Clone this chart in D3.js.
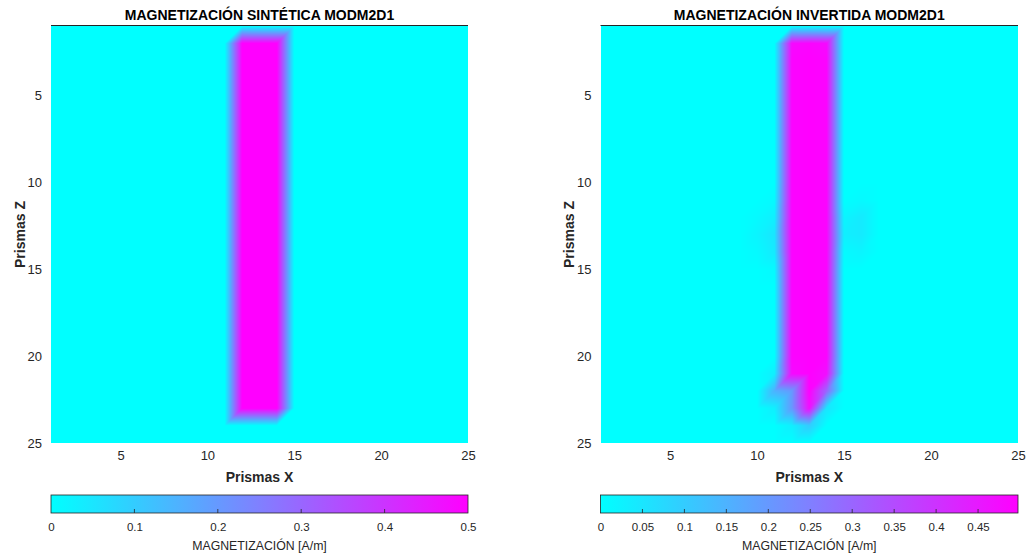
<!DOCTYPE html>
<html>
<head>
<meta charset="utf-8">
<script src="https://d3js.org/d3.v7.min.js"></script>
<style>
  body { margin: 0; background: #fff; }
  svg { display: block; font-family: "Liberation Sans", Arial, sans-serif; }
  .tick text { fill: #262626; }
</style>
</head>
<body>
<div id="chart"></div>
<script>
  // grid axes (prism index)
  const prismsX = [1, 25];
  const prismsZ = [1, 25];
  const axisTicks = [5, 10, 15, 20, 25];

  // synthetic magnetization, rows = Z (1..25), columns = X (1..25)
  const synthetic = [
    [0,0,0,0,0,0,0,0,0,0,0,0,0,0,0,0,0,0,0,0,0,0,0,0,0],
    [0,0,0,0,0,0,0,0,0,0,0,.5,.5,.5,0,0,0,0,0,0,0,0,0,0,0],
    [0,0,0,0,0,0,0,0,0,0,0,.5,.5,.5,0,0,0,0,0,0,0,0,0,0,0],
    [0,0,0,0,0,0,0,0,0,0,0,.5,.5,.5,0,0,0,0,0,0,0,0,0,0,0],
    [0,0,0,0,0,0,0,0,0,0,0,.5,.5,.5,0,0,0,0,0,0,0,0,0,0,0],
    [0,0,0,0,0,0,0,0,0,0,0,.5,.5,.5,0,0,0,0,0,0,0,0,0,0,0],
    [0,0,0,0,0,0,0,0,0,0,0,.5,.5,.5,0,0,0,0,0,0,0,0,0,0,0],
    [0,0,0,0,0,0,0,0,0,0,0,.5,.5,.5,0,0,0,0,0,0,0,0,0,0,0],
    [0,0,0,0,0,0,0,0,0,0,0,.5,.5,.5,0,0,0,0,0,0,0,0,0,0,0],
    [0,0,0,0,0,0,0,0,0,0,0,.5,.5,.5,0,0,0,0,0,0,0,0,0,0,0],
    [0,0,0,0,0,0,0,0,0,0,0,.5,.5,.5,0,0,0,0,0,0,0,0,0,0,0],
    [0,0,0,0,0,0,0,0,0,0,0,.5,.5,.5,0,0,0,0,0,0,0,0,0,0,0],
    [0,0,0,0,0,0,0,0,0,0,0,.5,.5,.5,0,0,0,0,0,0,0,0,0,0,0],
    [0,0,0,0,0,0,0,0,0,0,0,.5,.5,.5,0,0,0,0,0,0,0,0,0,0,0],
    [0,0,0,0,0,0,0,0,0,0,0,.5,.5,.5,0,0,0,0,0,0,0,0,0,0,0],
    [0,0,0,0,0,0,0,0,0,0,0,.5,.5,.5,0,0,0,0,0,0,0,0,0,0,0],
    [0,0,0,0,0,0,0,0,0,0,0,.5,.5,.5,0,0,0,0,0,0,0,0,0,0,0],
    [0,0,0,0,0,0,0,0,0,0,0,.5,.5,.5,0,0,0,0,0,0,0,0,0,0,0],
    [0,0,0,0,0,0,0,0,0,0,0,.5,.5,.5,0,0,0,0,0,0,0,0,0,0,0],
    [0,0,0,0,0,0,0,0,0,0,0,.5,.5,.5,0,0,0,0,0,0,0,0,0,0,0],
    [0,0,0,0,0,0,0,0,0,0,0,.5,.5,.5,0,0,0,0,0,0,0,0,0,0,0],
    [0,0,0,0,0,0,0,0,0,0,0,.5,.5,.5,0,0,0,0,0,0,0,0,0,0,0],
    [0,0,0,0,0,0,0,0,0,0,0,.5,.5,.5,0,0,0,0,0,0,0,0,0,0,0],
    [0,0,0,0,0,0,0,0,0,0,0,0,0,0,0,0,0,0,0,0,0,0,0,0,0],
    [0,0,0,0,0,0,0,0,0,0,0,0,0,0,0,0,0,0,0,0,0,0,0,0,0]
  ];

  // inverted magnetization
  const inverted = [
    [0,0,0,0,0,0,0,0,0,0,0,0,0,0,0,0,0,0,0,0,0,0,0,0,0],
    [0,0,0,0,0,0,0,0,0,0,0,.48,.49,.48,0,0,0,0,0,0,0,0,0,0,0],
    [0,0,0,0,0,0,0,0,0,0,0,.49,.497,.49,0,0,0,0,0,0,0,0,0,0,0],
    [0,0,0,0,0,0,0,0,0,0,0,.49,.497,.49,0,0,0,0,0,0,0,0,0,0,0],
    [0,0,0,0,0,0,0,0,0,0,0,.49,.497,.49,0,0,0,0,0,0,0,0,0,0,0],
    [0,0,0,0,0,0,0,0,0,0,0,.49,.497,.49,0,0,0,0,0,0,0,0,0,0,0],
    [0,0,0,0,0,0,0,0,0,0,0,.49,.497,.49,0,0,0,0,0,0,0,0,0,0,0],
    [0,0,0,0,0,0,0,0,0,0,0,.49,.497,.49,0,0,0,0,0,0,0,0,0,0,0],
    [0,0,0,0,0,0,0,0,0,0,0,.49,.497,.49,0,0,0,0,0,0,0,0,0,0,0],
    [0,0,0,0,0,0,0,0,0,0,0,.49,.497,.49,0,0,0,0,0,0,0,0,0,0,0],
    [0,0,0,0,0,0,0,0,0,0,.01,.49,.497,.49,0,.01,0,0,0,0,0,0,0,0,0],
    [0,0,0,0,0,0,0,0,0,.01,.03,.49,.497,.49,.02,.04,0,0,0,0,0,0,0,0,0],
    [0,0,0,0,0,0,0,0,0,.02,.05,.49,.497,.49,.03,.04,0,0,0,0,0,0,0,0,0],
    [0,0,0,0,0,0,0,0,0,.01,.04,.49,.497,.49,.01,.02,0,0,0,0,0,0,0,0,0],
    [0,0,0,0,0,0,0,0,0,0,.01,.49,.497,.49,0,0,0,0,0,0,0,0,0,0,0],
    [0,0,0,0,0,0,0,0,0,0,0,.49,.497,.49,0,0,0,0,0,0,0,0,0,0,0],
    [0,0,0,0,0,0,0,0,0,0,0,.49,.497,.49,0,0,0,0,0,0,0,0,0,0,0],
    [0,0,0,0,0,0,0,0,0,0,0,.49,.497,.49,0,0,0,0,0,0,0,0,0,0,0],
    [0,0,0,0,0,0,0,0,0,0,0,.49,.497,.49,0,0,0,0,0,0,0,0,0,0,0],
    [0,0,0,0,0,0,0,0,0,0,0,.49,.497,.49,0,0,0,0,0,0,0,0,0,0,0],
    [0,0,0,0,0,0,0,0,0,0,.03,.48,.497,.47,0,0,0,0,0,0,0,0,0,0,0],
    [0,0,0,0,0,0,0,0,0,0,.15,.2,.497,.3,0,0,0,0,0,0,0,0,0,0,0],
    [0,0,0,0,0,0,0,0,0,0,.03,.2,.47,.05,0,0,0,0,0,0,0,0,0,0,0],
    [0,0,0,0,0,0,0,0,0,0,0,.03,.1,0,0,0,0,0,0,0,0,0,0,0,0],
    [0,0,0,0,0,0,0,0,0,0,0,0,0,0,0,0,0,0,0,0,0,0,0,0,0]
  ];

  const syntheticTicks = [0, 0.1, 0.2, 0.3, 0.4, 0.5];
  const invertedTicks = [0, 0.05, 0.1, 0.15, 0.2, 0.25, 0.3, 0.35, 0.4, 0.45];

  const panels = [
    { title: "MAGNETIZACIÓN SINTÉTICA MODM2D1", grid: synthetic, cmax: 0.5, ticks: syntheticTicks, x0: 51, x1: 468 },
    { title: "MAGNETIZACIÓN INVERTIDA MODM2D1", grid: inverted, cmax: 0.4976, ticks: invertedTicks, x0: 600.5, x1: 1018 }
  ];

  const width = 1032, height = 556;
  const plotTop = 26, plotBottom = 443;
  const cbTop = 495, cbBottom = 513;

  const svg = d3.select("#chart").append("svg")
    .attr("width", width).attr("height", height);
  const defs = svg.append("defs");

  panels.forEach((p, k) => {
    const x = d3.scaleLinear().domain(prismsX).range([p.x0, p.x1]);
    const y = d3.scaleLinear().domain(prismsZ).range([plotTop, plotBottom]);
    // "cool" colormap: cyan -> magenta
    const color = d3.scaleLinear().domain([0, p.cmax]).range(["#00ffff", "#ff00ff"]).clamp(true);
    const lut = d3.range(256).map(i => d3.rgb(color(i / 255 * p.cmax)));

    // interpolated shading over triangles (split along anti-diagonal)
    const px0 = Math.round(p.x0), px1 = Math.round(p.x1);
    const w = px1 - px0, h = plotBottom - plotTop;
    const canvas = document.createElement("canvas");
    canvas.width = w; canvas.height = h;
    const ctx = canvas.getContext("2d");
    const img = ctx.createImageData(w, h);
    const g = p.grid;
    for (let r = 0; r < h; r++) {
      const zv = Math.min(Math.max(y.invert(plotTop + r + 0.5), 1), 25);
      const j = Math.min(Math.floor(zv), 24), v = zv - j;
      for (let c = 0; c < w; c++) {
        const xv = Math.min(Math.max(x.invert(px0 + c + 0.5), 1), 25);
        const i = Math.min(Math.floor(xv), 24), u = xv - i;
        const z00 = g[j - 1][i - 1], z10 = g[j - 1][i], z01 = g[j][i - 1], z11 = g[j][i];
        let val;
        if (u + v <= 1) val = z00 + u * (z10 - z00) + v * (z01 - z00);
        else val = z11 + (1 - u) * (z01 - z11) + (1 - v) * (z10 - z11);
        const col = lut[Math.max(0, Math.min(255, Math.round(val / p.cmax * 255)))];
        const o = (r * w + c) * 4;
        img.data[o] = col.r; img.data[o + 1] = col.g; img.data[o + 2] = col.b; img.data[o + 3] = 255;
      }
    }
    ctx.putImageData(img, 0, 0);

    const g0 = svg.append("g");
    g0.append("image")
      .attr("x", px0).attr("y", plotTop).attr("width", w).attr("height", h)
      .attr("preserveAspectRatio", "none")
      .attr("href", canvas.toDataURL());

    g0.append("line")
      .attr("x1", p.x0).attr("x2", p.x1).attr("y1", plotTop - 0.5).attr("y2", plotTop - 0.5)
      .attr("stroke", "#262626").attr("stroke-width", 1);

    // axes
    const xa = g0.append("g").attr("transform", `translate(0,${plotBottom})`)
      .call(d3.axisBottom(x).tickValues(axisTicks).tickSize(0).tickPadding(8));
    const ya = g0.append("g").attr("transform", `translate(${p.x0},0)`)
      .call(d3.axisLeft(y).tickValues(axisTicks).tickSize(0).tickPadding(9));
    [xa, ya].forEach(a => {
      a.select(".domain").remove();
      a.selectAll("text").attr("font-size", 13).attr("font-family", "Liberation Sans, Arial, sans-serif");
    });

    g0.append("text")
      .attr("x", (p.x0 + p.x1) / 2).attr("y", 19.5)
      .attr("text-anchor", "middle").attr("font-weight", "bold").attr("font-size", 14)
      .attr("fill", "#000").text(p.title);
    g0.append("text")
      .attr("x", (p.x0 + p.x1) / 2).attr("y", 482)
      .attr("text-anchor", "middle").attr("font-weight", "bold").attr("font-size", 14)
      .attr("fill", "#262626").text("Prismas X");
    g0.append("text")
      .attr("transform", `translate(${p.x0 - 31},${(plotTop + plotBottom) / 2}) rotate(-90)`)
      .attr("dy", "0.35em")
      .attr("text-anchor", "middle").attr("font-weight", "bold").attr("font-size", 14)
      .attr("fill", "#262626").text("Prismas Z");

    // colorbar
    const gid = "cb" + k;
    const grad = defs.append("linearGradient").attr("id", gid);
    d3.range(0, 1.0001, 0.1).forEach(t => {
      grad.append("stop").attr("offset", t).attr("stop-color", color(t * p.cmax));
    });
    const cx = d3.scaleLinear().domain([0, p.cmax]).range([p.x0, p.x1]);
    g0.append("rect")
      .attr("x", p.x0).attr("y", cbTop).attr("width", p.x1 - p.x0).attr("height", cbBottom - cbTop)
      .attr("fill", `url(#${gid})`).attr("stroke", "#262626").attr("stroke-width", 0.8);
    g0.append("g").selectAll("line")
      .data(p.ticks.filter(t => t > 0 && t < p.cmax))
      .join("line")
      .attr("x1", d => cx(d)).attr("x2", d => cx(d))
      .attr("y1", cbBottom).attr("y2", cbBottom - 4)
      .attr("stroke", "#262626").attr("stroke-width", 0.8);
    const ca = g0.append("g").attr("transform", `translate(0,${cbBottom})`)
      .call(d3.axisBottom(cx).tickValues(p.ticks).tickSize(0).tickPadding(10)
        .tickFormat(d => String(+d.toFixed(2))));
    ca.select(".domain").remove();
    ca.selectAll("text").attr("font-size", 11.5).attr("font-family", "Liberation Sans, Arial, sans-serif");
    g0.append("text")
      .attr("x", (p.x0 + p.x1) / 2).attr("y", 549.5)
      .attr("text-anchor", "middle").attr("font-size", 12.3)
      .attr("fill", "#262626").text("MAGNETIZACIÓN [A/m]");
  });
</script>
</body>
</html>
